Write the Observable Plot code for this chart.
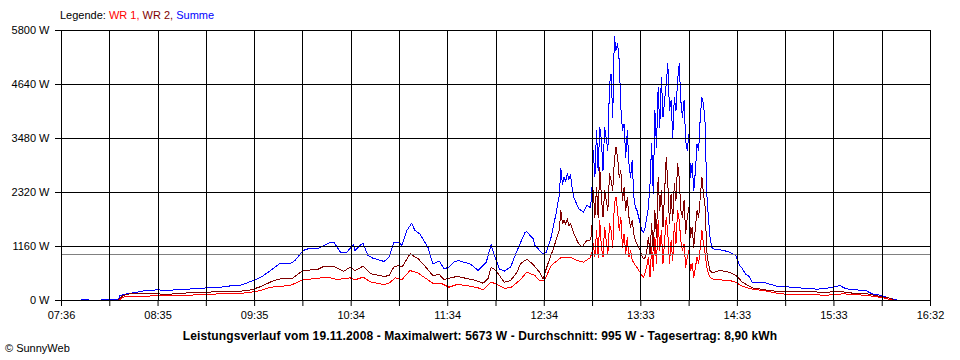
<!DOCTYPE html>
<html><head><meta charset="utf-8">
<script src="https://cdn.jsdelivr.net/npm/d3@7"></script>
<script src="https://cdn.jsdelivr.net/npm/@observablehq/plot@0.6"></script>
<style>
body{margin:0;background:#fff;font-family:"Liberation Sans",Arial,sans-serif;}
#wrap{position:relative;width:960px;height:360px;overflow:hidden;background:#fff}
#wrap svg{position:absolute;left:0;top:0}
#legend{position:absolute;left:60px;top:9px;font-size:11px;line-height:13px;white-space:nowrap}
#title{position:absolute;left:0;width:960px;top:329px;text-align:center;font-weight:bold;font-size:12px;line-height:14px;white-space:nowrap;letter-spacing:0.12px}
#credit{position:absolute;left:5px;top:342px;font-size:11px;line-height:13px}
</style></head>
<body><div id="wrap"></div>
<script>
// ---- data ----
const xTickLabels = ["07:36","08:35","09:35","10:34","11:34","12:34","13:33","14:33","15:33","16:32"];
const yTicks = [0,1160,2320,3480,4640,5800];
const average = 995;
const title = "Leistungsverlauf vom 19.11.2008 - Maximalwert: 5673 W - Durchschnitt: 995 W - Tagesertrag: 8,90 kWh";
const seriesNames = ["WR 1", "WR 2", "Summe"];
const seriesColors = ["#ff0000", "#800000", "#0000ff"];

// one-minute section around midday (shared by all series)
const spikeT = ["13:04","13:05","13:06","13:07","13:08","13:09","13:10","13:11","13:13","13:14",
"13:15","13:16","13:17","13:18","13:19","13:20","13:21","13:22","13:23","13:24",
"13:25","13:26","13:27","13:28","13:29","13:30","13:31","13:32","13:33","13:34",
"13:35","13:36","13:37","13:38","13:39","13:40","13:41","13:42","13:43","13:44",
"13:45","13:46","13:47","13:49","13:50","13:51","13:52","13:53","13:54","13:55",
"13:56","13:57","13:58","13:59","14:00","14:01","14:02","14:03","14:04","14:05",
"14:06","14:07","14:08","14:09","14:10","14:11","14:12","14:13","14:14","14:15",
"14:16","14:17","14:18"];

// Summe
const sumAmT = ["07:46","07:49","07:52","07:55","08:00","08:01","08:11","08:12","08:16","08:23","08:25","08:35","08:41","08:49","08:58","09:06","09:14","09:22","09:26","09:30","09:35","09:39","09:45","09:51","09:57","10:00","10:05","10:08","10:14","10:18","10:22","10:24","10:26","10:28","10:32","10:36","10:37","10:40","10:42","10:45","10:48","10:55","10:58","11:01","11:04","11:06","11:09","11:12","11:14","11:17","11:22","11:25","11:29","11:32","11:35","11:38","11:41","11:44","11:48","11:53","11:58","12:01","12:02","12:06","12:09","12:13","12:17","12:22","12:23","12:25","12:27","12:28","12:30","12:33","12:35","12:38","12:41","12:43","12:44","12:45","12:46","12:47","12:48","12:49","12:50","12:51","12:52","12:55","12:58","13:00","13:02","13:03"];
const sumAmW = [0,15,15,0,0,20,20,107,143,179,200,229,215,236,251,272,286,322,322,372,440,500,644,802,788,859,1074,1110,1117,1181,1252,1252,1145,1038,1038,1203,1074,1181,1231,967,909,838,931,1239,1252,1181,1504,1660,1504,1432,1145,788,845,680,716,823,859,823,788,644,823,1196,1074,680,630,716,1074,1467,1482,1396,1325,1181,1110,1003,1038,1360,1862,2255,2829,2500,2650,2560,2720,2600,2700,2400,2219,1970,1897,2050,2000,2190];
const sumSpikeW = [3222,2650,3651,2792,3723,3437,2792,3723,3222,4654,
4869,3938,5673,5370,5514,5155,4152,3651,3794,3079,
3651,2936,2650,3007,2219,2004,1933,1790,1647,1504,
1467,1575,1790,2004,2506,3365,2291,4081,3293,4582,
3723,4797,3938,4654,5084,4081,4296,3508,4367,4081,
4726,5084,4296,3938,4296,3437,3222,3580,2650,2936,
2363,2792,3365,3222,3938,4367,4225,3794,2291,1790,
1360,1145,1110];
const sumPmT = ["14:22","14:26","14:28","14:32","14:34","14:36","14:38","14:40","14:42","14:50","14:58","15:02","15:08","15:16","15:22","15:30","15:36","15:40","15:46","15:52","15:56","16:02","16:06","16:10","16:12"];
const sumPmW = [1089,1060,1038,967,770,680,560,520,393,380,301,307,272,265,243,272,322,251,229,215,143,107,57,21,0];

// WR 2
const wr2AmT = ["08:11","08:12","08:14","08:18","08:35","08:41","08:49","08:58","09:06","09:14","09:22","09:26","09:30","09:33","09:36","09:39","09:47","09:53","09:58","10:05","10:14","10:18","10:24","10:30","10:34","10:37","10:42","10:47","10:55","10:58","11:01","11:04","11:06","11:11","11:16","11:19","11:25","11:29","11:32","11:36","11:40","11:44","11:50","11:56","11:59","12:01","12:04","12:09","12:13","12:17","12:19","12:23","12:25","12:27","12:31","12:33","12:36","12:39","12:43","12:44","12:45","12:46","12:47","12:48","12:49","12:50","12:52","12:55","12:57","13:00","13:02","13:03"];
const wr2AmW = [0,37,107,143,143,129,158,165,179,193,200,200,215,229,265,300,430,479,465,644,666,737,737,623,716,644,737,573,516,537,716,752,716,1003,895,788,537,558,451,487,516,487,444,372,465,716,644,393,430,608,788,885,830,770,600,465,788,1074,1504,1933,1650,1720,1640,1755,1600,1650,1432,1217,1145,1289,1300,1400];
const wr2SpikeW = [2363,1790,2434,1790,2864,2219,1790,2363,1933,2721,
2578,2363,3007,3293,3079,2650,2792,2148,2434,1933,
2219,1790,1575,1718,1432,1289,1217,1145,1074,967,
895,931,1074,1360,1003,1647,1074,1933,1360,2650,
1933,2363,1575,3079,2506,1647,2291,1718,2506,2148,
2936,2650,1933,1790,2148,1432,1790,2004,1360,1575,
1145,1575,1933,1790,2219,2650,2291,2004,1074,788,
644,608,601];
const wr2PmT = ["14:22","14:28","14:32","14:36","14:42","14:50","14:58","15:08","15:16","15:28","15:36","15:44","15:53","16:01","16:07","16:10"];
const wr2PmW = [644,608,537,393,272,229,193,193,186,179,193,158,143,86,50,0];

// WR 1
const wr1AmT = ["08:11","08:12","08:14","08:18","08:29","08:35","08:49","09:00","09:14","09:26","09:35","09:39","09:45","09:57","10:05","10:11","10:20","10:26","10:34","10:37","10:42","10:47","10:55","10:58","11:02","11:06","11:11","11:16","11:19","11:25","11:30","11:35","11:40","11:46","11:53","11:56","12:01","12:04","12:09","12:13","12:19","12:23","12:28","12:31","12:34","12:38","12:44","12:50","12:54","12:58","13:02","13:03"];
const wr1AmW = [0,20,72,93,93,107,107,122,143,150,190,215,286,322,444,465,501,451,487,444,501,393,344,372,487,451,644,587,516,372,372,286,344,322,272,229,393,358,265,272,444,608,537,420,440,752,917,931,859,823,917,1000];
const wr1SpikeW = [1217,931,1504,931,1718,1145,931,1575,1003,1647,
1504,1145,2077,2219,1933,1504,1790,1145,1432,1003,
1360,931,1074,859,816,752,709,644,601,537,
501,601,730,931,501,1145,644,1360,788,1718,
1074,1504,788,1790,1432,788,1289,859,1647,1217,
1933,1718,1289,1074,1217,716,931,1074,644,788,
501,716,931,788,1145,1504,1217,1003,716,573,
501,465,462];
const wr1PmT = ["14:22","14:28","14:32","14:35","14:41","14:51","14:59","15:09","15:20","15:28","15:38","15:48","15:56","16:04","16:08","16:09"];
const wr1PmW = [444,430,393,322,251,200,143,129,122,114,143,122,93,50,15,0];

// ---- build ----
const toMin = s => { const [h, m] = s.split(":").map(Number); return h * 60 + m; };
const rows = (T, W) => T.map((t, i) => ({t: toMin(t), w: W[i]}));
const wr1 = rows([...wr1AmT, ...spikeT, ...wr1PmT], [...wr1AmW, ...wr1SpikeW, ...wr1PmW]);
const wr2 = rows([...wr2AmT, ...spikeT, ...wr2PmT], [...wr2AmW, ...wr2SpikeW, ...wr2PmW]);
const sum = rows([...sumAmT, ...spikeT, ...sumPmT], [...sumAmW, ...sumSpikeW, ...sumPmW]);

const x0 = toMin(xTickLabels[0]), x1 = toMin(xTickLabels[xTickLabels.length - 1]);
const nGrid = (xTickLabels.length - 1) * 2;
const step = (x1 - x0) / nGrid;
const grid = d3.range(nGrid + 1).map(i => x0 + i * step);

const crisp = {shapeRendering: "crispEdges"};
const chart = Plot.plot({
  width: 960, height: 360,
  marginLeft: 61, marginRight: 30, marginTop: 30, marginBottom: 60,
  x: {domain: [x0, x1], label: null},
  y: {domain: [0, 5800], label: null},
  style: {fontFamily: '"Liberation Sans", Arial, sans-serif', fontSize: "11px", color: "black", background: "white"},
  marks: [
    Plot.line(sum, {x: "t", y: "w", stroke: seriesColors[2], strokeWidth: 1, ...crisp}),
    Plot.line(wr2, {x: "t", y: "w", stroke: seriesColors[1], strokeWidth: 1, ...crisp}),
    Plot.line(wr1, {x: "t", y: "w", stroke: seriesColors[0], strokeWidth: 1, ...crisp}),
    Plot.ruleY([average], {stroke: "#808080", strokeWidth: 1, ...crisp}),
    Plot.gridX(grid, {stroke: "black", strokeOpacity: 1, strokeWidth: 1, ...crisp}),
    Plot.gridY(yTicks, {stroke: "black", strokeOpacity: 1, strokeWidth: 1, ...crisp}),
    Plot.axisX(grid, {tickSize: 6, tickPadding: 5, fontSize: 11, label: null,
      tickFormat: d => { const i = Math.round((d - x0) / step); return i % 2 === 0 ? xTickLabels[i / 2] : ""; }}),
    Plot.axisY(yTicks, {tickSize: 6, tickPadding: 6, fontSize: 11, label: null, tickFormat: d => `${d} W`})
  ]
});
const wrap = document.getElementById("wrap");
wrap.appendChild(chart);

const legend = document.createElement("div");
legend.id = "legend";
legend.appendChild(document.createTextNode("Legende: "));
seriesNames.forEach((n, i) => {
  const s = document.createElement("span");
  s.style.color = seriesColors[i];
  s.textContent = n + (i < seriesNames.length - 1 ? ", " : "");
  legend.appendChild(s);
});
wrap.appendChild(legend);

const t = document.createElement("div");
t.id = "title"; t.textContent = title;
wrap.appendChild(t);
const c = document.createElement("div");
c.id = "credit"; c.textContent = "© SunnyWeb";
wrap.appendChild(c);
</script>
</body></html>
